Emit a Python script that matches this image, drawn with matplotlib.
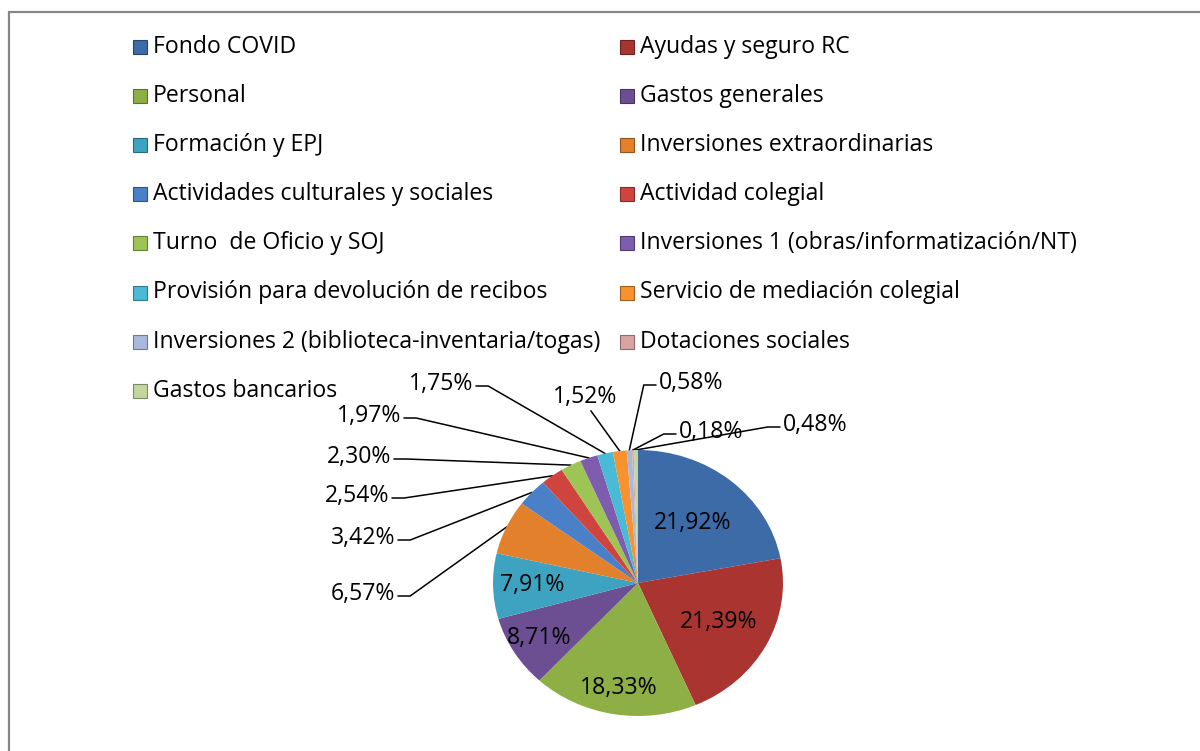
import matplotlib
matplotlib.use("Agg")
import matplotlib.pyplot as plt
from matplotlib.patches import Rectangle
from matplotlib.colors import to_rgb
import numpy as np

categories = [
    "Fondo COVID", "Ayudas y seguro RC",
    "Personal", "Gastos generales",
    "Formación y EPJ", "Inversiones extraordinarias",
    "Actividades culturales y sociales", "Actividad colegial",
    "Turno  de Oficio y SOJ", "Inversiones 1 (obras/informatización/NT)",
    "Provisión para devolución de recibos", "Servicio de mediación colegial",
    "Inversiones 2 (biblioteca-inventaria/togas)", "Dotaciones sociales",
    "Gastos bancarios",
]
values = [21.92, 21.39, 18.33, 8.71, 7.91, 6.57, 3.42, 2.54, 2.30, 1.97,
          1.75, 1.52, 0.58, 0.18, 0.48]
colors = ["#3D6BA8", "#A93430", "#8DAF45", "#6B4F92", "#3EA3C0", "#E3802C",
          "#4A80C8", "#D0443F", "#9DC455", "#7E5CAE", "#4ABBD6", "#F7922E",
          "#A9B9DD", "#D9A3A1", "#C4D5A0"]

# layout (pixels)
W, H = 1200, 751
cx, cy, rx, ry = 638, 583, 145, 133
inside_r = [0.59, 0.63, 0.80, 0.80, 0.73]
# outside labels: text centre and side where the leader line leaves the text
out_pos = [(363, 594), (363, 538), (357, 496), (359, 457), (369, 416),
           (441, 384), (585, 397), (691, 383), (711, 432), (815, 425)]
out_side = ["right"] * 6 + ["bottom", "left", "left", "left"]

plt.rcParams['font.family'] = ['Open Sans', 'DejaVu Sans']
FS = 16.6


def darker(c, f=0.65):
    return tuple(v * f for v in to_rgb(c))


def pct(v):
    return f"{v:.2f}%".replace(".", ",")


fig = plt.figure(figsize=(12, 7.51), dpi=100)
over = fig.add_axes([0, 0, 1, 1])
over.set_xlim(0, W)
over.set_ylim(H, 0)
over.axis('off')
over.plot([9, 9, W], [H, 12, 12], color='#878787', lw=1.6, solid_joinstyle='miter')

# legend, filled row by row
for i, (name, c) in enumerate(zip(categories, colors)):
    r, k = divmod(i, 2)
    y = 47 + r * 49.1
    x = [133, 620][k]
    over.add_patch(Rectangle((x, y - 7), 14, 14, facecolor=c,
                             edgecolor=darker(c), lw=0.8))
    over.text(x + 20, y, name, fontsize=FS, va='center', ha='left')

# pie (slightly squashed like the tilted 3D original)
pax = fig.add_axes([(cx - rx) / W, 1 - (cy + ry) / H, 2 * rx / W, 2 * ry / H])
wedges, _ = pax.pie(values, colors=colors, startangle=90, counterclock=False,
                    wedgeprops=dict(linewidth=0))
pax.set_aspect('auto')
pax.set_xlim(-1, 1)
pax.set_ylim(-1, 1)

mids = [np.radians((w.theta1 + w.theta2) / 2) for w in wedges]

for i in range(5):
    a = mids[i]
    pax.text(inside_r[i] * np.cos(a), inside_r[i] * np.sin(a), pct(values[i]),
             fontsize=FS, ha='center', va='center')

renderer = fig.canvas.get_renderer()
for j, i in enumerate(range(5, len(values))):
    tx, ty = out_pos[j]
    t = over.text(tx, ty, pct(values[i]), fontsize=FS, ha='center', va='center')
    bb = t.get_window_extent(renderer)
    ax_, ay_ = cx + rx * np.cos(mids[i]), cy - ry * np.sin(mids[i])
    side = out_side[j]
    if side == "right":
        x0 = bb.x1 + 3
        xs, ys = [x0, x0 + 12, ax_], [ty + 2, ty + 2, ay_]
    elif side == "left":
        x0 = bb.x0 - 3
        xs, ys = [x0, x0 - 12, ax_], [ty + 2, ty + 2, ay_]
    else:
        y0 = H - bb.y0 + 2
        xs, ys = [tx + 6, ax_], [y0, ay_]
    over.plot(xs, ys, color='black', lw=1.1)

fig.savefig("out.png", dpi=100)
